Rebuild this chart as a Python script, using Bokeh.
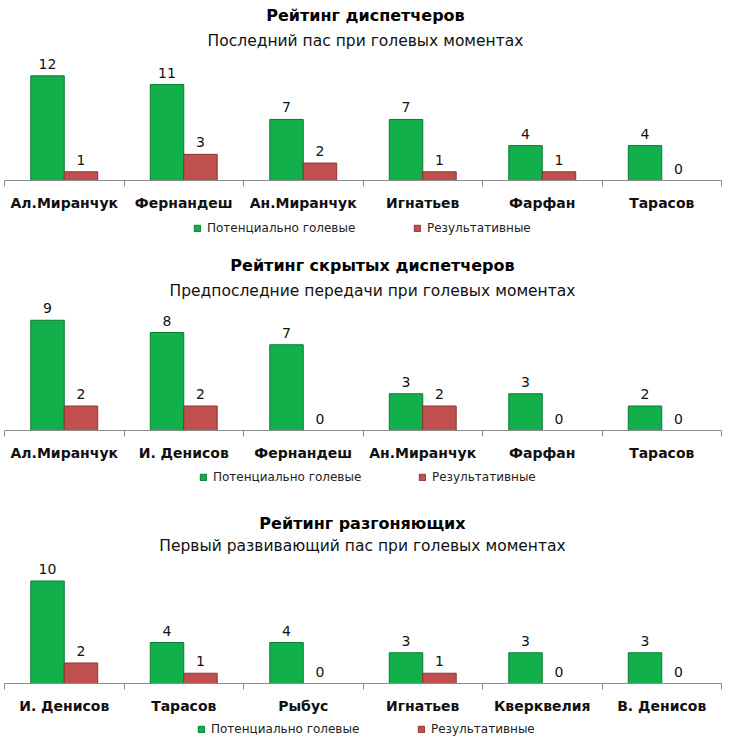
from bokeh.plotting import figure
from bokeh.models import (ColumnDataSource, Range1d, LinearAxis,
                          FixedTicker, Label, Legend, LegendItem)
from bokeh.transform import dodge
from bokeh.core.properties import value
from bokeh.layouts import column
from bokeh.embed import file_html
from bokeh.resources import INLINE

# ---------------- data ----------------
titles = ["Рейтинг диспетчеров", "Рейтинг скрытых диспетчеров", "Рейтинг разгоняющих"]
subtitles = ["Последний пас при голевых моментах",
             "Предпоследние передачи при голевых моментах",
             "Первый развивающий пас при голевых моментах"]
series_names = ["Потенциально голевые", "Результативные"]

players1 = ["Ал.Миранчук", "Фернандеш", "Ан.Миранчук", "Игнатьев", "Фарфан", "Тарасов"]
potential1 = [12, 11, 7, 7, 4, 4]
result1 = [1, 3, 2, 1, 1, 0]

players2 = ["Ал.Миранчук", "И. Денисов", "Фернандеш", "Ан.Миранчук", "Фарфан", "Тарасов"]
potential2 = [9, 8, 7, 3, 3, 2]
result2 = [2, 2, 0, 2, 0, 0]

players3 = ["И. Денисов", "Тарасов", "Рыбус", "Игнатьев", "Кверквелия", "В. Денисов"]
potential3 = [10, 4, 4, 3, 3, 3]
result3 = [2, 1, 0, 1, 0, 0]

# ---------------- style / layout ----------------
FONT = "DejaVu Sans"
GREEN, GREEN_EDGE = "#12B04B", "#0B7A33"
RED, RED_EDGE = "#C0504D", "#8E3432"
W = 730
BAR_W = 0.28
AX_LEFT, AX_RIGHT = 4, 721   # pixel extent of the category axis

# H, baseline from top, px per unit, title/subtitle y from top, title x, legend y from bottom, legend x's
layouts = [
    dict(H=250, base=180, s=8.72, ty=15, sy=40, tx=365, ly=21, lx=(193, 413)),
    dict(H=250, base=180, s=12.25, ty=15, sy=40, tx=372, ly=22, lx=(199, 418)),
    dict(H=252, base=183, s=10.25, ty=23, sy=45, tx=362, ly=22, lx=(197, 417)),
]


def make_chart(title, subtitle, cats, pot, res, L):
    H, base, s = L["H"], L["base"], L["s"]
    n = len(cats)
    centers = [i + 0.5 for i in range(n)]
    cw = (AX_RIGHT - AX_LEFT) / n
    p = figure(width=W, height=H,
               x_range=Range1d(-AX_LEFT / cw, n + (W - AX_RIGHT) / cw),
               y_range=Range1d(-(H - base) / s, base / s),
               x_axis_location=None, y_axis_location=None, toolbar_location=None,
               output_backend="svg", min_border=0, outline_line_color=None, title=None)
    p.grid.visible = False
    p.background_fill_color = "white"
    p.border_fill_color = "white"

    src = ColumnDataSource(dict(c=centers, cat=cats, pot=pot, res=res,
                                pot_s=[str(v) for v in pot], res_s=[str(v) for v in res]))
    xg = dodge("c", -BAR_W / 2)
    xr = dodge("c", BAR_W / 2)
    g = p.vbar(x=xg, top="pot", bottom=0, width=BAR_W, fill_color=GREEN,
               line_color=GREEN_EDGE, line_width=1, source=src)
    r = p.vbar(x=xr, top="res", bottom=0, width=BAR_W, fill_color=RED,
               line_color=RED_EDGE, line_width=1, source=src)
    for x, col in ((xg, "pot"), (xr, "res")):
        p.text(x=x, y=col, text=col + "_s", source=src, text_align="center",
               text_baseline="bottom", y_offset=-7, text_font_size="14px",
               text_font=value(FONT), text_color="#111111")

    # category axis: names at centres, boundary ticks as minor ticks
    cat_axis = LinearAxis(ticker=FixedTicker(ticks=centers, minor_ticks=list(range(n + 1))),
                          major_label_overrides={c: name for c, name in zip(centers, cats)},
                          fixed_location=0, bounds=(0, n),
                          axis_line_color="#8C8C8C", major_tick_line_color=None,
                          major_tick_out=0, major_tick_in=0,
                          minor_tick_line_color="#8C8C8C", minor_tick_out=6, minor_tick_in=0,
                          major_label_standoff=8,
                          major_label_text_font_style="bold", major_label_text_font_size="14px",
                          major_label_text_font=FONT, major_label_text_color="#111111")
    p.add_layout(cat_axis, "below")

    p.add_layout(Label(x=L["tx"], y=H - L["ty"], x_units="screen", y_units="screen", text=title,
                       text_align="center", text_baseline="middle", text_font_size="16px",
                       text_font_style="bold", text_font=FONT, text_color="#000000"))
    p.add_layout(Label(x=L["tx"], y=H - L["sy"], x_units="screen", y_units="screen", text=subtitle,
                       text_align="center", text_baseline="middle", text_font_size="15.5px",
                       text_font=FONT, text_color="#111111"))

    for rend, name, lx in ((g, series_names[0], L["lx"][0]), (r, series_names[1], L["lx"][1])):
        leg = Legend(items=[LegendItem(label=name, renderers=[rend])], location=(lx, L["ly"] - 6),
                     orientation="horizontal", glyph_width=8, glyph_height=8, label_height=12,
                     label_standoff=6, padding=0, margin=0, border_line_color=None,
                     background_fill_alpha=0, label_text_font_size="12px", label_text_font=FONT,
                     label_text_color="#222222", label_text_baseline="middle")
        p.add_layout(leg)
    return p


p1 = make_chart(titles[0], subtitles[0], players1, potential1, result1, layouts[0])
p2 = make_chart(titles[1], subtitles[1], players2, potential2, result2, layouts[1])
p3 = make_chart(titles[2], subtitles[2], players3, potential3, result3, layouts[2])
p = column(p1, p2, p3, spacing=0)

open("out.html", "w").write(file_html(p, INLINE))
